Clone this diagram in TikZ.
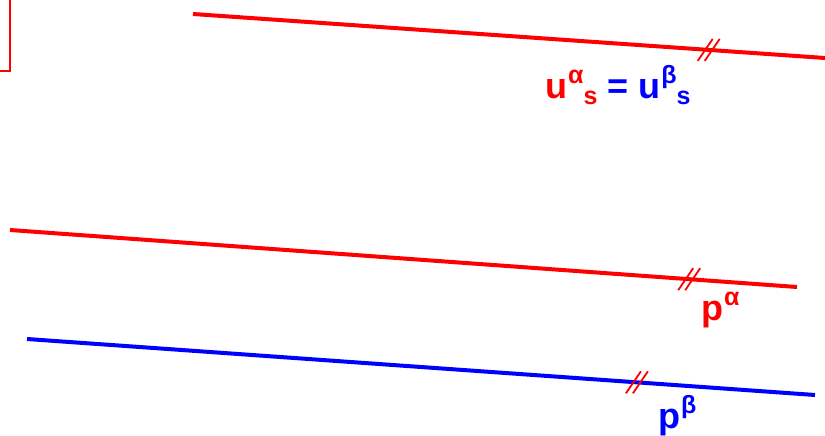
\documentclass[tikz,border=0pt]{standalone}
\usepackage{fontspec}
\setmainfont{Liberation Sans}
\usepackage{xcolor}
\usetikzlibrary{positioning}
\tikzset{
  x=1pt, y=-1pt,                          % pixel-like grid, y downwards
  redline/.style  = {draw=red, line width=4pt},
  blueline/.style = {draw=blue, line width=4pt},
  frame/.style    = {draw=red, line width=2pt},
  tick/.style     = {draw=red, line width=1.8pt},
  lbl/.style      = {font=\fontsize{36}{42}\selectfont\bfseries,
                     anchor=base west, inner sep=0pt}
}
% double tick mark centred at a coordinate
\newcommand{\dtick}[1]{%
  \draw[tick] ([xshift=-3.5pt]#1) +(-7.5,11) -- +(7.5,-11);
  \draw[tick] ([xshift=3.5pt]#1) +(-7.5,11) -- +(7.5,-11);
}
% raised and lowered indices
\newcommand{\hiidx}[1]{\kern1pt\raisebox{15pt}{\fontsize{25}{25}\selectfont #1}}
\newcommand{\loidx}[1]{\raisebox{-6pt}{\fontsize{25}{25}\selectfont #1}}

\begin{document}
\begin{tikzpicture}
  \clip (0,0) rectangle (825,436);
  \fill[white] (0,0) rectangle (825,436);
  % box cut by the border
  \draw[frame] (-60,-20) rectangle (10,71);
  % interface lines
  \coordinate (us1) at (193,14);
  \coordinate (us2) at (825,58);
  \coordinate (pa1) at (10,230);
  \coordinate (pa2) at (797,287);
  \coordinate (pb1) at (27,339);
  \coordinate (pb2) at (815,395);
  \draw[redline] (us1) -- (us2) coordinate[pos=0.816] (ust);
  \draw[redline] (pa1) -- (pa2) coordinate[pos=0.863] (pat);
  \draw[blueline] (pb1) -- (pb2) coordinate[pos=0.774] (pbt);
  \dtick{ust}
  \dtick{pat}
  \dtick{pbt}
  % labels
  \node[lbl] (uslbl) at (545,99) {\textcolor{red}{u\hiidx{α}\loidx{s}}
    \textcolor{blue}{= u\hiidx{β}\loidx{s}}};
  \node[lbl, red] (palbl) at (701,320) {p\hiidx{α}};
  \node[lbl, blue] (pblbl) at (658,428) {p\hiidx{β}};
\end{tikzpicture}
\end{document}
